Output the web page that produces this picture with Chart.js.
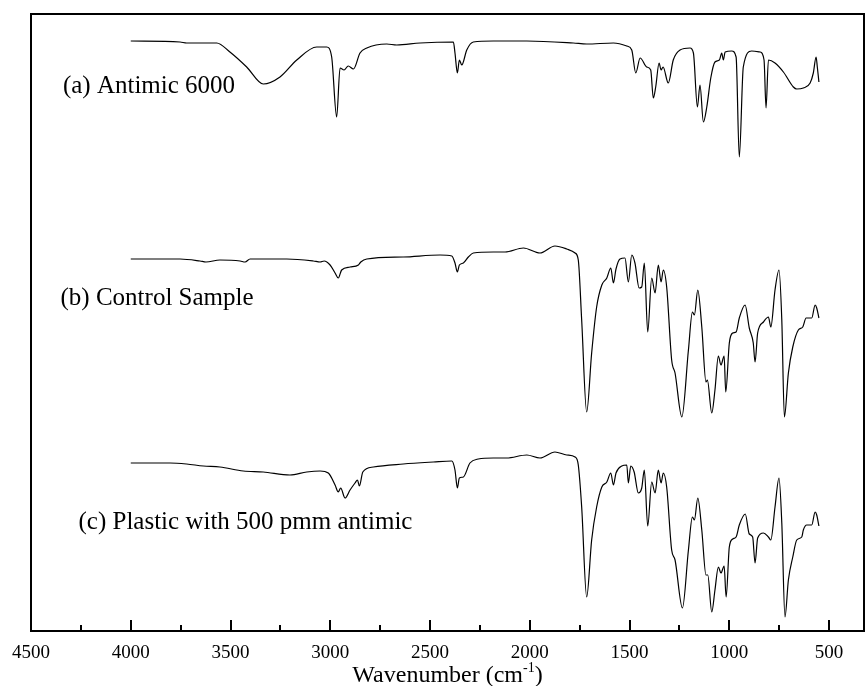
<!DOCTYPE html>
<html>
<head>
<meta charset="utf-8">
<script src="https://cdn.jsdelivr.net/npm/chart.js@4/dist/chart.umd.min.js"></script>
<style>
  html, body { margin: 0; padding: 0; background: #fff; }
</style>
</head>
<body>
<canvas id="ftir" width="866" height="686"></canvas>
<script>
// FTIR spectra, stacked with an offset (y in arbitrary units)

// (a) Antimic 6000
const antimicWn = [4000,3753,3720,3569,3503,3419,3336,3252,3168,3068,3018,2993,2968,2951,2931,2910,2884,2851,2817,2717,
  2667,2550,2383,2375,2363,2353,2341,2316,2283,2183,2015,1782,1715,1581,1514,1489,1469,1447,1414,1394,
  1381,1369,1352,1342,1332,1306,1281,1247,1197,1180,1160,1147,1130,1113,1093,1072,1050,1038,1030,1021,
  988,966,950,930,888,846,826,816,804,771,729,679,662,629,595,579,565,559,551];
const antimicT = [590,589,588,588,579,564,547,554,571,584,584,574,514,563,561,565,562,578,583,587,
  586,588,589,578,558,571,566,581,589,590,590,588,587,588,585,581,558,573,564,561,
  533,544,568,561,564,548,571,581,583,578,524,546,509,524,553,569,571,578,571,579,
  580,574,474,564,580,579,571,523,571,568,559,544,542,543,548,558,574,564,549];

// (b) Control Sample
const controlWn = [4000,3753,3653,3623,3553,3452,3427,3402,3218,3085,3051,3031,3001,2976,2960,2943,2901,2859,2847,2817,
  2634,2450,2391,2375,2363,2353,2333,2308,2283,2183,2124,2032,1949,1874,1815,1773,1757,1740,1715,1690,
  1665,1639,1614,1594,1581,1568,1548,1523,1506,1489,1473,1452,1439,1426,1409,1389,1372,1356,1342,1331,
  1314,1289,1272,1238,1205,1185,1175,1158,1138,1117,1110,1088,1072,1055,1042,1026,1018,1000,983,966,
  950,921,900,880,871,858,829,804,792,771,751,737,724,704,682,654,632,615,587,570,562,551];
const controlT = [372,372,370,369,371,370,369,372,372,370,369,370,366,358,353,361,364,366,369,372,
  374,376,375,368,359,366,368,374,378,379,379,383,378,385,382,378,371,311,219,278,
  324,346,353,363,348,362,372,373,349,376,368,343,344,368,299,353,338,366,349,361,
  344,271,258,214,281,319,316,341,304,249,251,218,241,275,266,275,239,288,298,299,
  313,326,303,288,269,298,309,314,304,341,361,311,214,258,284,301,304,313,313,326,323,313];

// (c) Plastic with 500 pmm antimic
const plasticWn = [4000,3803,3720,3636,3553,3436,3336,3202,3118,3051,3010,2976,2960,2948,2926,2901,2876,2864,2854,2837,
  2784,2634,2483,2391,2375,2363,2353,2333,2300,2258,2183,2116,2015,1949,1874,1815,1773,1757,1740,1715,
  1690,1665,1639,1614,1594,1581,1568,1539,1514,1506,1494,1477,1456,1439,1426,1409,1389,1372,1356,1342,
  1331,1314,1289,1272,1235,1205,1185,1175,1158,1138,1117,1108,1088,1072,1055,1042,1026,1016,1000,983,
  966,950,920,900,883,871,858,829,804,792,771,751,737,721,704,682,662,637,629,612,587,570,562,551];
const plasticT = [168,168,167,165,164,160,159,156,159,160,158,146,139,143,133,141,148,151,145,159,
  164,167,169,170,161,143,153,154,168,172,173,173,176,173,179,176,174,166,124,34,
  91,124,144,149,158,146,158,165,166,148,165,159,138,143,161,105,149,138,161,148,
  158,144,81,71,23,81,114,111,133,101,56,56,19,41,64,58,65,34,84,92,
  94,106,117,97,94,68,93,98,94,91,124,153,108,14,51,74,91,94,101,106,106,119,116,105];

const seriesLabels = ["(a) Antimic 6000", "(b) Control Sample", "(c) Plastic with 500 pmm antimic"];
// where each label sits, in data units (wavenumber, y)
const labelAnchors = [[4340, 545], [4352, 333], [4262, 109]];

const majorTicks = [4500, 4000, 3500, 3000, 2500, 2000, 1500, 1000, 500];
const minorTicks = [4250, 3750, 3250, 2750, 2250, 1750, 1250, 750];

const SERIF = "'Liberation Serif', 'Times New Roman', serif";

function toPoints(xs, ys) {
    return xs.map((x, i) => ({ x: x, y: ys[i] }));
}

function spectrum(label, xs, ys) {
    return {
        label: label,
        data: toPoints(xs, ys),
        borderColor: "#000",
        borderWidth: 1.2,
        pointRadius: 0,
        cubicInterpolationMode: "monotone",
        fill: false
    };
}

// frame, inward ticks, curve labels and the axis title (with superscript)
const decorations = {
    id: "decorations",
    afterDraw(chart) {
        const { ctx, chartArea: a, scales } = chart;
        const x = scales.x, y = scales.y;
        ctx.save();
        ctx.strokeStyle = "#000";
        ctx.lineWidth = 2;
        ctx.strokeRect(a.left, a.top, a.right - a.left, a.bottom - a.top);

        ctx.beginPath();
        majorTicks.forEach(v => {
            const px = Math.round(x.getPixelForValue(v));
            ctx.moveTo(px, a.bottom);
            ctx.lineTo(px, a.bottom - 11);
        });
        minorTicks.forEach(v => {
            const px = Math.round(x.getPixelForValue(v));
            ctx.moveTo(px, a.bottom);
            ctx.lineTo(px, a.bottom - 6);
        });
        ctx.stroke();

        ctx.fillStyle = "#000";
        ctx.font = "25px " + SERIF;
        ctx.textAlign = "left";
        ctx.textBaseline = "middle";
        seriesLabels.forEach((t, i) => {
            ctx.fillText(t, x.getPixelForValue(labelAnchors[i][0]), y.getPixelForValue(labelAnchors[i][1]));
        });

        // "Wavenumber (cm-1)"
        const main = "Wavenumber (cm", sup = "-1", tail = ")";
        ctx.textBaseline = "alphabetic";
        ctx.font = "24px " + SERIF;
        const wMain = ctx.measureText(main).width, wTail = ctx.measureText(tail).width;
        ctx.font = "14px " + SERIF;
        const wSup = ctx.measureText(sup).width;
        let cx = (a.left + a.right) / 2 - (wMain + wSup + wTail) / 2;
        const base = 682;
        ctx.font = "24px " + SERIF;
        ctx.fillText(main, cx, base);
        cx += wMain;
        ctx.font = "14px " + SERIF;
        ctx.fillText(sup, cx, base - 10);
        cx += wSup;
        ctx.font = "24px " + SERIF;
        ctx.fillText(tail, cx, base);
        ctx.restore();
    }
};

new Chart(document.getElementById("ftir"), {
    type: "line",
    data: {
        datasets: [
            spectrum(seriesLabels[0], antimicWn, antimicT),
            spectrum(seriesLabels[1], controlWn, controlT),
            spectrum(seriesLabels[2], plasticWn, plasticT)
        ]
    },
    options: {
        responsive: false,
        devicePixelRatio: 1,
        animation: false,
        layout: { padding: { left: 31, right: 2, top: 14, bottom: 0 } },
        plugins: {
            legend: { display: false },
            tooltip: { enabled: false }
        },
        scales: {
            x: {
                type: "linear",
                reverse: true,
                min: 325,
                max: 4500,
                afterBuildTicks: (scale) => {
                    scale.ticks = majorTicks.concat(minorTicks).map(v => ({ value: v }));
                },
                afterFit: (scale) => { scale.height = 55; },
                grid: { display: false, drawTicks: false },
                border: { display: false },
                ticks: {
                    autoSkip: false,
                    maxRotation: 0,
                    padding: 11,
                    color: "#000",
                    font: { family: SERIF, size: 19 },
                    callback: (value) => majorTicks.includes(value) ? String(value) : ""
                }
            },
            y: {
                display: false,
                min: 0,
                max: 617
            }
        }
    },
    plugins: [decorations]
});
</script>
</body>
</html>
